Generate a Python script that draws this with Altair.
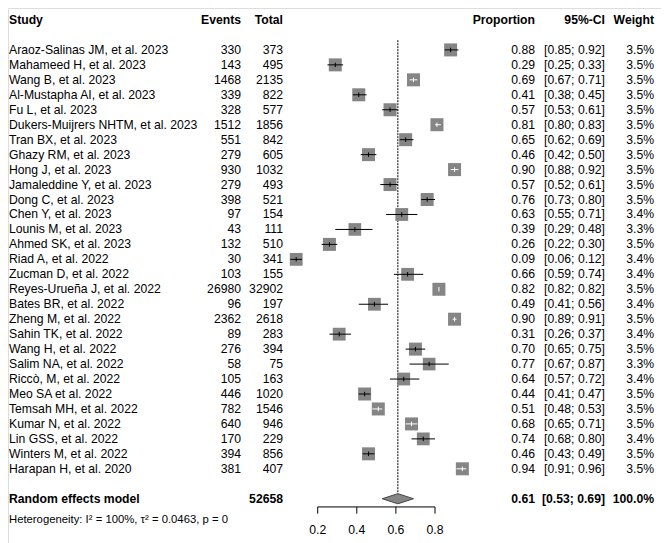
import altair as alt
import pandas as pd

studies = [
    "Araoz-Salinas JM, et al. 2023", "Mahameed H, et al. 2023", "Wang B, et al. 2023",
    "Al-Mustapha AI, et al. 2023", "Fu L, et al. 2023", "Dukers-Muijrers NHTM, et al. 2023",
    "Tran BX, et al. 2023", "Ghazy RM, et al. 2023", "Hong J, et al. 2023",
    "Jamaleddine Y, et al. 2023", "Dong C, et al. 2023", "Chen Y, et al. 2023",
    "Lounis M, et al. 2023", "Ahmed SK, et al. 2023", "Riad A, et al. 2022",
    "Zucman D, et al. 2022", "Reyes-Urueña J, et al. 2022", "Bates BR, et al. 2022",
    "Zheng M, et al. 2022", "Sahin TK, et al. 2022", "Wang H, et al. 2022",
    "Salim NA, et al. 2022", "Riccò, M, et al. 2022", "Meo SA et al. 2022",
    "Temsah MH, et al. 2022", "Kumar N, et al. 2022", "Lin GSS, et al. 2022",
    "Winters M, et al. 2022", "Harapan H, et al. 2020",
]
events = [330, 143, 1468, 339, 328, 1512, 551, 279, 930, 279, 398, 97, 43, 132, 30,
          103, 26980, 96, 2362, 89, 276, 58, 105, 446, 782, 640, 170, 394, 381]
totals = [373, 495, 2135, 822, 577, 1856, 842, 605, 1032, 493, 521, 154, 111, 510, 341,
          155, 32902, 197, 2618, 283, 394, 75, 163, 1020, 1546, 946, 229, 856, 407]
prop = [0.88, 0.29, 0.69, 0.41, 0.57, 0.81, 0.65, 0.46, 0.90, 0.57, 0.76, 0.63, 0.39, 0.26,
        0.09, 0.66, 0.82, 0.49, 0.90, 0.31, 0.70, 0.77, 0.64, 0.44, 0.51, 0.68, 0.74, 0.46, 0.94]
lower = [0.85, 0.25, 0.67, 0.38, 0.53, 0.80, 0.62, 0.42, 0.88, 0.52, 0.73, 0.55, 0.29, 0.22,
         0.06, 0.59, 0.82, 0.41, 0.89, 0.26, 0.65, 0.67, 0.57, 0.41, 0.48, 0.65, 0.68, 0.43, 0.91]
upper = [0.92, 0.33, 0.71, 0.45, 0.61, 0.83, 0.69, 0.50, 0.92, 0.61, 0.80, 0.71, 0.48, 0.30,
         0.12, 0.74, 0.82, 0.56, 0.91, 0.37, 0.75, 0.87, 0.72, 0.47, 0.53, 0.71, 0.80, 0.49, 0.96]
weight = [3.5, 3.5, 3.5, 3.5, 3.5, 3.5, 3.5, 3.5, 3.5, 3.5, 3.5, 3.4, 3.3, 3.5, 3.4,
          3.4, 3.5, 3.4, 3.5, 3.4, 3.5, 3.3, 3.4, 3.5, 3.5, 3.5, 3.4, 3.5, 3.5]
# CI drawn inside the square (white line)
inside = [False, False, True, False, False, True, False, False, True, False, False, False,
          False, False, False, False, True, False, True, False, False, False, False, False,
          True, True, False, False, True]

re_total = 52658
re_est, re_lo, re_hi = 0.61, 0.53, 0.69
axis_ticks = [0.2, 0.4, 0.6, 0.8]
hetero = "Heterogeneity: I² = 100%, τ² = 0.0463, p = 0"

FONT = "Liberation Sans"
FS = 12.2
W, H = 653, 535
PX_ROW = 14.96
TOP = 12.0
X0, XU = 270.6, 195.5

xs = alt.Scale(domain=[-X0 / XU, (W - X0) / XU], nice=False, zero=False)
ys = alt.Scale(domain=[-TOP / PX_ROW, (H - TOP) / PX_ROW], reverse=True, nice=False, zero=False)

n = len(studies)
df = pd.DataFrame(dict(study=studies, prop=prop, lower=lower, upper=upper, weight=weight))
df["row"] = [2 + i for i in range(n)]
df["ev_txt"] = [str(e) for e in events]
df["tot_txt"] = [str(t) for t in totals]
df["p_txt"] = [f"{p:.2f}" for p in prop]
df["ci_txt"] = [f"[{l:.2f}; {u:.2f}]" for l, u in zip(lower, upper)]
df["w_txt"] = [f"{w:.1f}%" for w in weight]
df["ci_col"] = ["white" if f else "black" for f in inside]

RE_ROW = 32.0
AX_ROW = 32.55
LAB_ROW = 34.1
HET_ROW = 33.42

base = alt.Chart(df)
Yrow = alt.Y("row:Q", scale=ys, axis=None)


def col_text(data, field, xpx, align, bold=False, size=FS):
    return alt.Chart(data).mark_text(
        align=align, baseline="middle", font=FONT, fontSize=size,
        fontWeight="bold" if bold else "normal", color="black"
    ).encode(x=alt.value(xpx), y=alt.Y("row:Q", scale=ys, axis=None), text=f"{field}:N")


layers = []
# study table
layers.append(col_text(df, "study", 1, "left"))
layers.append(col_text(df, "ev_txt", 233, "right"))
layers.append(col_text(df, "tot_txt", 275, "right"))
layers.append(col_text(df, "p_txt", 527, "right"))
layers.append(col_text(df, "ci_txt", 597, "right"))
layers.append(col_text(df, "w_txt", 646, "right"))

# headers
hdr = pd.DataFrame({"row": [0], "a": ["Study"], "b": ["Events"], "c": ["Total"],
                    "d": ["Proportion"], "e": ["95%-CI"], "f": ["Weight"]})
layers.append(col_text(hdr, "a", 1, "left", True))
layers.append(col_text(hdr, "b", 233, "right", True))
layers.append(col_text(hdr, "c", 275, "right", True))
layers.append(col_text(hdr, "d", 527, "right", True))
layers.append(col_text(hdr, "e", 597, "right", True))
layers.append(col_text(hdr, "f", 646, "right", True))

# random effects row
re_df = pd.DataFrame({"row": [RE_ROW], "a": ["Random effects model"], "c": [str(re_total)],
                      "d": [f"{re_est:.2f}"], "e": [f"[{re_lo:.2f}; {re_hi:.2f}]"],
                      "f": ["100.0%"]})
layers.append(col_text(re_df, "a", 1, "left", True))
layers.append(col_text(re_df, "c", 275, "right", True))
layers.append(col_text(re_df, "d", 527, "right", True))
layers.append(col_text(re_df, "e", 597, "right", True))
layers.append(col_text(re_df, "f", 646, "right", True))

het_df = pd.DataFrame({"row": [HET_ROW], "a": [hetero]})
layers.append(col_text(het_df, "a", 1, "left", False, 11.3))

# dotted reference line at pooled estimate
ref_df = pd.DataFrame({"x": [re_est], "y1": [1.35], "y2": [RE_ROW - 0.35]})
layers.append(alt.Chart(ref_df).mark_rule(color="black", strokeWidth=1, strokeDash=[2, 1]).encode(
    x=alt.X("x:Q", scale=xs, axis=None), y=alt.Y("y1:Q", scale=ys, axis=None), y2="y2:Q"))

# squares
layers.append(base.mark_square(filled=True, opacity=1, color="#858585").encode(
    x=alt.X("prop:Q", scale=xs, axis=None), y=Yrow,
    size=alt.Size("weight:Q", scale=alt.Scale(domain=[0, 3.5], range=[0, 169]), legend=None)))
# CI lines
layers.append(base.mark_rule(strokeWidth=1).encode(
    x=alt.X("lower:Q", scale=xs, axis=None), x2="upper:Q", y=Yrow,
    color=alt.Color("ci_col:N", scale=None)))
# estimate ticks
layers.append(base.transform_calculate(t1="datum.row - 0.15", t2="datum.row + 0.15").mark_rule(strokeWidth=1).encode(
    x=alt.X("prop:Q", scale=xs, axis=None), y=alt.Y("t1:Q", scale=ys, axis=None), y2="t2:Q",
    color=alt.Color("ci_col:N", scale=None)))

# diamond
dia = pd.DataFrame({"x": [re_lo, re_est, re_hi], "d": [0.0, 1.0, 0.0]})
layers.append(alt.Chart(dia).transform_calculate(
    ya=f"{RE_ROW} - 0.34 * datum.d", yb=f"{RE_ROW} + 0.34 * datum.d"
).mark_area(color="#858585", stroke="#444444", strokeWidth=1, opacity=1).encode(
    x=alt.X("x:Q", scale=xs, axis=None), y=alt.Y("ya:Q", scale=ys, axis=None), y2="yb:Q"))

# manual x axis
ax_df = pd.DataFrame({"x1": [min(axis_ticks)], "x2": [max(axis_ticks)], "row": [AX_ROW]})
layers.append(alt.Chart(ax_df).mark_rule(color="black", strokeWidth=1).encode(
    x=alt.X("x1:Q", scale=xs, axis=None), x2="x2:Q", y=alt.Y("row:Q", scale=ys, axis=None)))
tk = pd.DataFrame({"x": axis_ticks, "lab": [f"{t:.1f}" for t in axis_ticks]})
layers.append(alt.Chart(tk).transform_calculate(
    y1=f"{AX_ROW}", y2=f"{AX_ROW} + 0.45"
).mark_rule(color="black", strokeWidth=1).encode(
    x=alt.X("x:Q", scale=xs, axis=None), y=alt.Y("y1:Q", scale=ys, axis=None), y2="y2:Q"))
layers.append(alt.Chart(tk).transform_calculate(r=f"{LAB_ROW}").mark_text(
    align="center", baseline="middle", font=FONT, fontSize=FS, color="black").encode(
    x=alt.X("x:Q", scale=xs, axis=None), y=alt.Y("r:Q", scale=ys, axis=None), text="lab:N"))

chart = alt.layer(*layers).properties(
    width=W, height=H, padding=0, autosize="none"
).configure_view(strokeWidth=0).configure(background="white")

chart.save("out.html", embed_options={"renderer": "svg", "actions": False})
